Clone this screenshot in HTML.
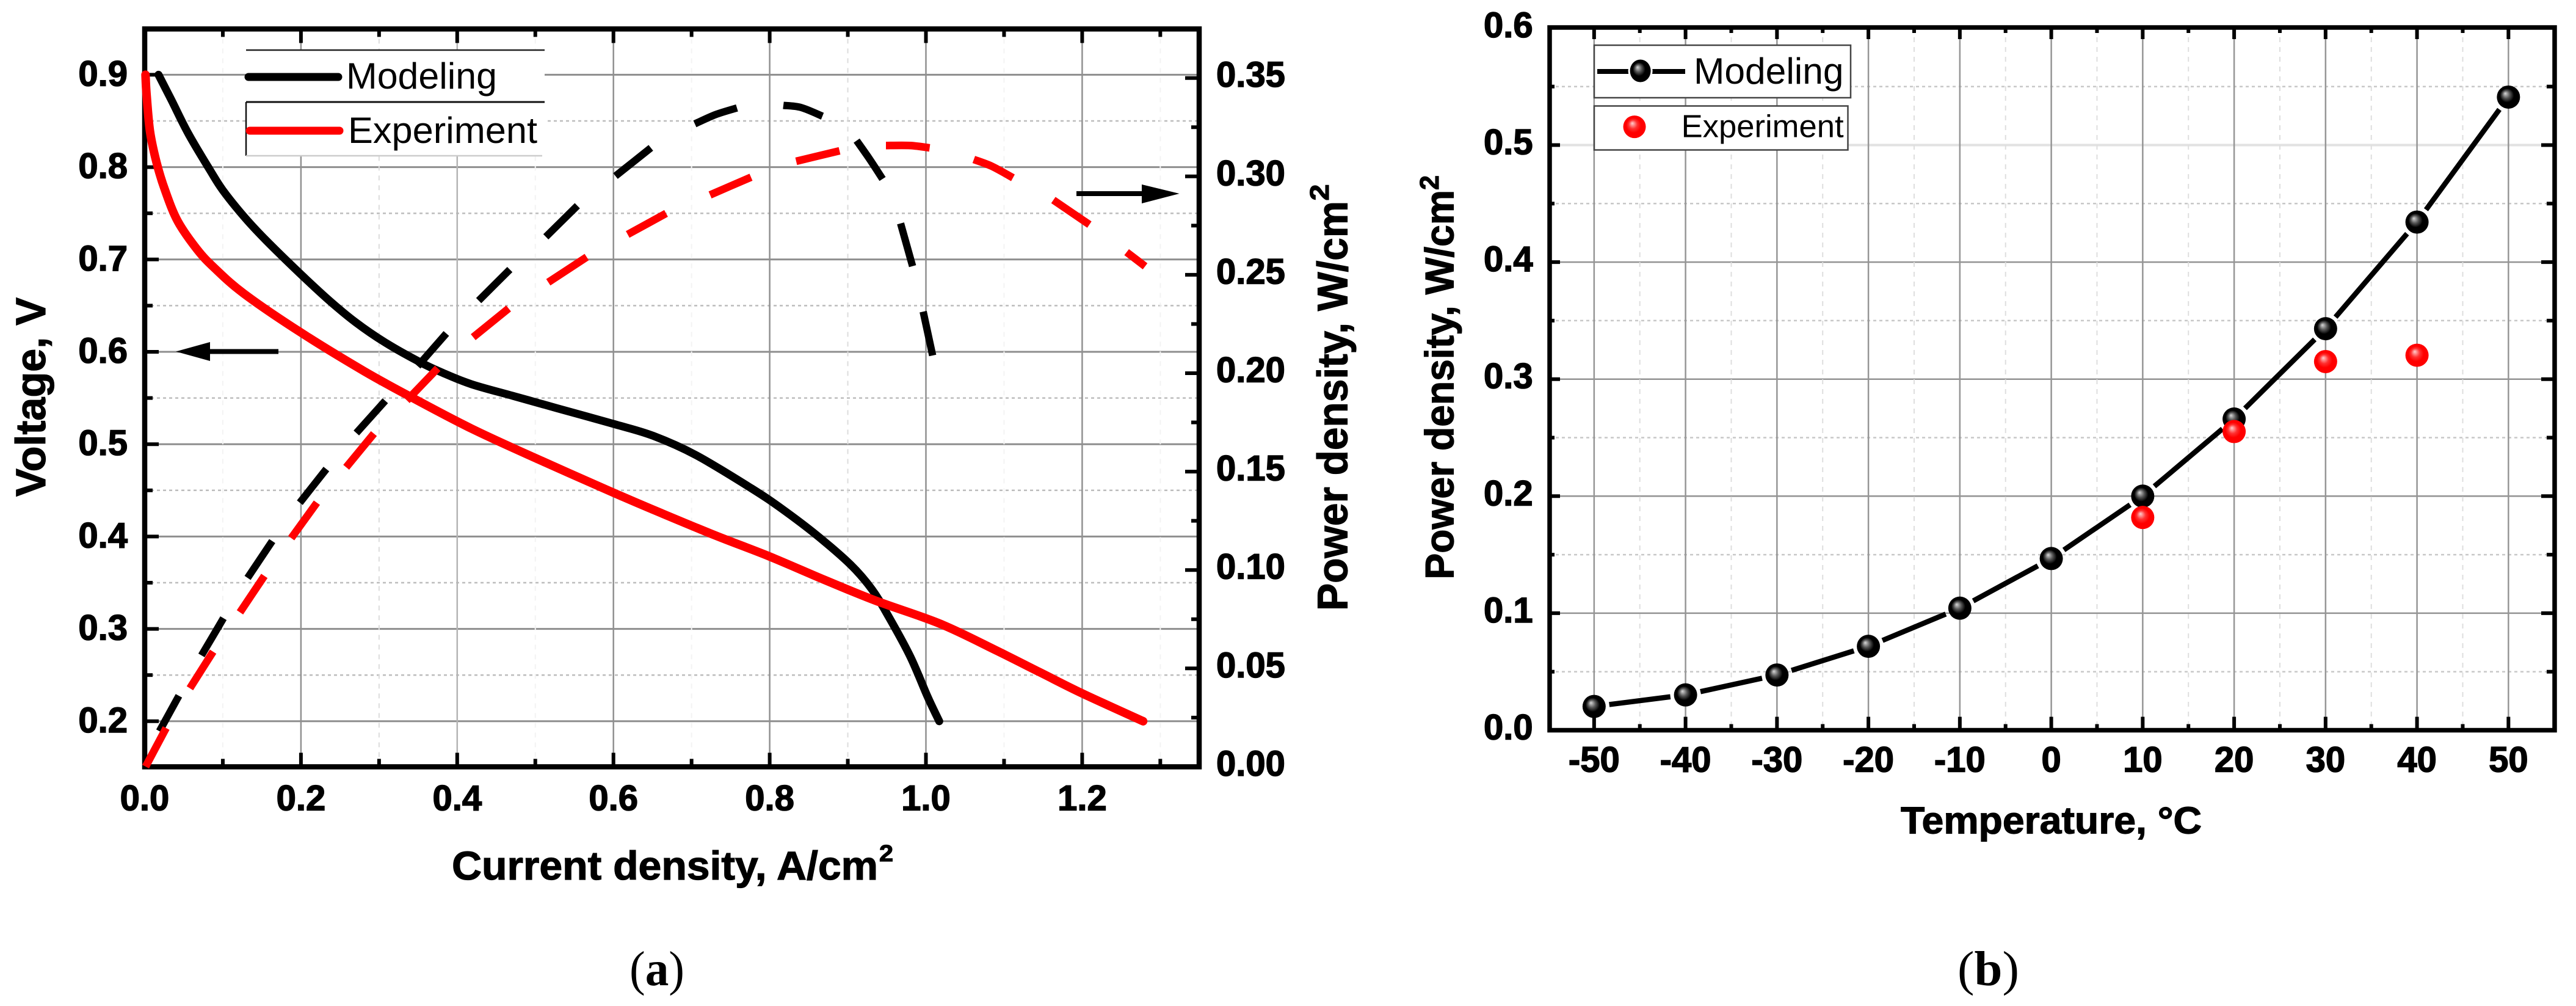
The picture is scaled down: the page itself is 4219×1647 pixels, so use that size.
<!DOCTYPE html>
<html lang="en">
<head>
<meta charset="utf-8">
<title>Voltage and power density charts</title>
<style>
html,body{margin:0;padding:0;background:#fff;}
svg{display:block;}
text{font-family:"Liberation Sans",sans-serif;fill:#000;}
.b{font-weight:bold;stroke:#000;stroke-width:1.2;}
.serif{font-family:"Liberation Serif",serif;}
</style>
</head>
<body>
<svg id="fig" xmlns="http://www.w3.org/2000/svg" width="4219" height="1647" viewBox="0 0 4219 1647">
<defs>
<radialGradient id="gBlack" cx="0.5" cy="0.5" r="0.55" fx="0.36" fy="0.34">
<stop offset="0" stop-color="#d8d8d8"/><stop offset="0.3" stop-color="#555"/><stop offset="0.55" stop-color="#000"/><stop offset="1" stop-color="#000"/>
</radialGradient>
<radialGradient id="gRed" cx="0.5" cy="0.5" r="0.55" fx="0.4" fy="0.34">
<stop offset="0" stop-color="#ffd0d0"/><stop offset="0.35" stop-color="#ff3030"/><stop offset="0.6" stop-color="#f00"/><stop offset="1" stop-color="#f00"/>
</radialGradient>
</defs>
<rect x="0" y="0" width="4219" height="1647" fill="#fff"/>

<g id="panelA">
<g id="aGrid"></g>
<g id="aLegendBox">
<rect x="403" y="82" width="489" height="173" fill="#fff"/>
<line x1="403" y1="82" x2="892" y2="82" stroke="#222" stroke-width="2.5"/>
<line x1="403" y1="167" x2="892" y2="167" stroke="#111" stroke-width="3"/>
<line x1="403" y1="167" x2="403" y2="255" stroke="#111" stroke-width="2.5"/>
<line x1="403" y1="255" x2="888" y2="255" stroke="#ccc" stroke-width="2.5"/>
</g>
<rect x="237" y="47.4" width="1727" height="1208" fill="none" stroke="#000" stroke-width="8.5"/>
<g id="aTicks"></g>
<g id="aSeries"></g>
<g>
<line x1="407" y1="126" x2="554" y2="126" stroke="#000" stroke-width="13" stroke-linecap="round"/>
<text x="567" y="145" font-size="60" textLength="247" lengthAdjust="spacingAndGlyphs">Modeling</text>
<line x1="409" y1="214" x2="556" y2="214" stroke="#f00" stroke-width="13" stroke-linecap="round"/>
<text x="570" y="234" font-size="60" textLength="310" lengthAdjust="spacingAndGlyphs">Experiment</text>
</g>
<g>
<line x1="456" y1="575.5" x2="340" y2="575.5" stroke="#000" stroke-width="8"/>
<polygon points="288,575.5 344,560 344,591" fill="#000"/>
</g>
<g>
<line x1="1763" y1="317" x2="1875" y2="317" stroke="#000" stroke-width="8"/>
<polygon points="1931.6,317 1870,302 1870,333" fill="#000"/>
</g>
<text class="b" x="740" y="1440" font-size="66" textLength="698" lengthAdjust="spacingAndGlyphs">Current density, A/cm</text>
<text class="b" x="1440" y="1410" font-size="38" textLength="23" lengthAdjust="spacingAndGlyphs">2</text>
<text class="b" transform="translate(74,813) rotate(-90)" x="0" y="0" font-size="69" textLength="326" lengthAdjust="spacingAndGlyphs">Voltage, V</text>
<text class="b" transform="translate(2206.6,1000) rotate(-90)" x="0" y="0" font-size="70" textLength="671" lengthAdjust="spacingAndGlyphs">Power density, W/cm</text>
<text class="b" transform="translate(2176,328.5) rotate(-90)" x="0" y="0" font-size="44" textLength="27" lengthAdjust="spacingAndGlyphs">2</text>
<text class="serif" x="1031" y="1613" font-size="80" textLength="90" lengthAdjust="spacingAndGlyphs">(<tspan font-weight="bold">a</tspan>)</text>
</g>

<g id="panelB">
<g id="bGrid"></g>
<rect x="2538" y="45" width="1646" height="1150.5" fill="none" stroke="#000" stroke-width="7.5"/>
<g id="bTicks"></g>
<g id="bSeries"></g>
<g>
<rect x="2611" y="74" width="420" height="86" fill="#fff" stroke="#444" stroke-width="2.5"/>
<line x1="2616" y1="117" x2="2760" y2="117" stroke="#000" stroke-width="8"/>
<ellipse cx="2686.6" cy="116" rx="20" ry="21" fill="#fff"/>
<ellipse cx="2686.6" cy="116" rx="17" ry="18.5" fill="url(#gBlack)"/>
<text x="2774" y="137" font-size="60" textLength="245.5" lengthAdjust="spacingAndGlyphs">Modeling</text>
<rect x="2611" y="173.5" width="415.5" height="72" fill="#fff" stroke="#444" stroke-width="2.5"/>
<ellipse cx="2677" cy="207.6" rx="18.5" ry="18.5" fill="url(#gRed)"/>
<text x="2753.6" y="224.5" font-size="52" textLength="266" lengthAdjust="spacingAndGlyphs">Experiment</text>
</g>
<text class="b" x="3113" y="1364.5" font-size="62" textLength="493" lengthAdjust="spacingAndGlyphs">Temperature, °C</text>
<text class="b" transform="translate(2380.5,948.6) rotate(-90)" x="0" y="0" font-size="66" textLength="637.6" lengthAdjust="spacingAndGlyphs">Power density, W/cm</text>
<text class="b" transform="translate(2356,311) rotate(-90)" x="0" y="0" font-size="44" textLength="24" lengthAdjust="spacingAndGlyphs">2</text>
<text class="serif" x="3206" y="1613" font-size="80" textLength="101" lengthAdjust="spacingAndGlyphs">(<tspan font-weight="bold">b</tspan>)</text>
</g>
</svg>

<script>
// Panel (a) tick values
const aXMajor = [0, 0.2, 0.4, 0.6, 0.8, 1.0, 1.2];
const aXMinor = [0.1, 0.3, 0.5, 0.7, 0.9, 1.1, 1.3];
const aVMajor = [0.2, 0.3, 0.4, 0.5, 0.6, 0.7, 0.8, 0.9];
const aVMinor = [0.25, 0.35, 0.45, 0.55, 0.65, 0.75, 0.85];
const aPMajor = [0, 0.05, 0.1, 0.15, 0.2, 0.25, 0.3, 0.35];
const aPMinor = [0.025, 0.075, 0.125, 0.175, 0.225, 0.275, 0.325];

// Panel (a) voltage curves
const vModelX = [0.0177,0.034,0.056,0.0834,0.1,0.127,0.155,0.1986,0.237,0.27,0.308,0.352,0.3795,0.418,0.4727,0.5275,0.5998,0.651,0.706,0.777,0.8156,0.8595,0.9033,0.9307,0.9527,0.98,1.002,1.017];
const vModelY = [0.9,0.873,0.836,0.797,0.775,0.7465,0.721,0.685,0.655,0.632,0.61,0.589,0.578,0.565,0.552,0.539,0.522,0.509,0.488,0.452,0.43,0.4019,0.3697,0.343,0.3126,0.27,0.2268,0.2];
const vExpX = [0.001,0.0023,0.0067,0.015,0.026,0.0423,0.067,0.089,0.127,0.1986,0.281,0.341,0.418,0.5,0.6,0.651,0.728,0.799,0.8704,0.936,1.0185,1.0897,1.1445,1.1994,1.278];
const vExpY = [0.9,0.88,0.839,0.8055,0.775,0.7414,0.711,0.691,0.663,0.6216,0.579,0.551,0.517,0.485,0.4475,0.429,0.402,0.3787,0.353,0.3304,0.3054,0.2768,0.2536,0.2304,0.2];

// Panel (a) power curves, drawn dashed; null marks a gap between dashes
const pModelX = [0.0188,0.0438,null,0.0727,0.1008,null,0.1317,0.1633,null,0.1985,0.2325,null,0.2709,0.3079,null,0.3494,0.3861,null,0.4275,0.4674,null,0.5135,0.5538,null,0.6026,0.6479,null,0.7042,0.7307,0.7581,null,0.8175,0.8402,0.8675,null,0.9113,0.9277,0.9445,null,0.9676,0.9829,null,0.9965,1.0086];
const pModelY = [0.0181,0.0361,null,0.0566,0.0755,null,0.096,0.1147,null,0.1342,0.1513,null,0.1696,0.186,null,0.2036,0.2202,null,0.2369,0.2527,null,0.2693,0.2851,null,0.3002,0.3145,null,0.3267,0.3314,0.3348,null,0.3361,0.335,0.3306,null,0.3182,0.3089,0.2987,null,0.2761,0.2544,null,0.2313,0.209];
const pExpX = [0.0012,0.0274,null,0.0578,0.0875,null,0.1219,0.1532,null,0.1876,0.2204,null,0.2579,0.2934,null,0.3356,0.3751,null,0.4205,0.4658,null,0.5166,0.5658,null,0.6182,0.6674,null,0.7237,0.7761,null,0.8339,0.8894,null,0.9488,0.98,1.0048,null,1.0613,1.084,1.1114,null,1.1631,1.2092,null,1.2569,1.2806];
const pExpY = [0.0001,0.0197,null,0.0399,0.0585,null,0.0785,0.097,null,0.1162,0.1342,null,0.1522,0.1693,null,0.1862,0.2025,null,0.2183,0.2329,null,0.2462,0.259,null,0.2705,0.2812,null,0.2906,0.2996,null,0.3077,0.313,null,0.3157,0.3157,0.3145,null,0.3086,0.3052,0.2993,null,0.288,0.2755,null,0.2615,0.2543];

// Panel (b) tick values and series
const bTMajor = [-50,-40,-30,-20,-10,0,10,20,30,40,50];
const bTMinor = [-45,-35,-25,-15,-5,5,15,25,35,45];
const bYMajor = [0,0.1,0.2,0.3,0.4,0.5,0.6];
const bYMinor = [0.05,0.15,0.25,0.35,0.45,0.55];
const modelTemps = [-50,-40,-30,-20,-10,0,10,20,30,40,50];
const modelPower = [0.0203,0.0302,0.0472,0.0717,0.1043,0.1467,0.2,0.2659,0.3431,0.4342,0.541];
const expTemps = [10,20,30,40];
const expPower = [0.1818,0.2552,0.315,0.3204];

// Axis functions
function ax(v){ return 237 + 1279.5 * v; }
function ay(v){ return 122.4 + (0.9 - v) * 1512; }
function ap(v){ return 1255.4 - 3222 * v; }
function bx(t){ return 3359.6 + 14.975 * t; }
function by(v){ return 1195.5 - 1916 * v; }

const NS = 'http://www.w3.org/2000/svg';
function mk(tag, parent, props){
  const el = document.createElementNS(NS, tag);
  for (const k in props) el.setAttribute(k, props[k]);
  parent.appendChild(el);
  return el;
}
function hLine(parent, y, x1, x2, color, w, dash){
  const p = {x1:x1, x2:x2, y1:y, y2:y, stroke:color, 'stroke-width':w};
  if (dash) p['stroke-dasharray'] = dash;
  return mk('line', parent, p);
}
function vLine(parent, x, y1, y2, color, w, dash){
  const p = {x1:x, x2:x, y1:y1, y2:y2, stroke:color, 'stroke-width':w};
  if (dash) p['stroke-dasharray'] = dash;
  return mk('line', parent, p);
}
function label(parent, str, x, y, anchor){
  const el = mk('text', parent, {x:x, y:y, 'font-size':58, 'font-weight':'bold', 'text-anchor':anchor, stroke:'#000', 'stroke-width':1.5});
  el.textContent = str;
  return el;
}
// Smooth path (Catmull-Rom) through each unbroken run of points
function pathFrom(xs, ys, fx, fy){
  let d = '', run = [];
  function flush(){
    if (run.length > 1){
      d += 'M' + run[0][0].toFixed(1) + ' ' + run[0][1].toFixed(1);
      for (let i = 0; i + 1 < run.length; i++){
        const p0 = run[Math.max(i - 1, 0)], p1 = run[i], p2 = run[i + 1], p3 = run[Math.min(i + 2, run.length - 1)];
        const c1x = p1[0] + (p2[0] - p0[0]) / 6, c1y = p1[1] + (p2[1] - p0[1]) / 6;
        const c2x = p2[0] - (p3[0] - p1[0]) / 6, c2y = p2[1] - (p3[1] - p1[1]) / 6;
        d += 'C' + c1x.toFixed(1) + ' ' + c1y.toFixed(1) + ' ' + c2x.toFixed(1) + ' ' + c2y.toFixed(1) + ' ' + p2[0].toFixed(1) + ' ' + p2[1].toFixed(1);
      }
    }
    run = [];
  }
  for (let i = 0; i < xs.length; i++){
    if (xs[i] === null || ys[i] === null){ flush(); continue; }
    run.push([fx(xs[i]), fy(ys[i])]);
  }
  flush();
  return d;
}

// ---------- Panel (a) ----------
const aGrid = document.getElementById('aGrid');
const aTicks = document.getElementById('aTicks');
const aSeries = document.getElementById('aSeries');
const aL = 237, aR = 1964, aT = 47.4, aB = 1255.4;

aVMajor.forEach(function(v){
  const el = hLine(aGrid, ay(v), aL, aR, '#8e8e8e', 3);
  
  
});
aVMinor.forEach(function(v){
  const el = hLine(aGrid, ay(v), aL, aR, '#bdbdbd', 2.5, '5 5');
  
  
});
aXMajor.slice(1).forEach(function(v){
  const el = vLine(aGrid, ax(v), aT, aB, v === 0.4 ? '#b4b4b4' : '#909090', 2.5);
  
  
});
aXMinor.forEach(function(v){
  const strong = (v === 0.3 || v === 0.9);
  const el = vLine(aGrid, ax(v), aT, aB, strong ? '#dcdcdc' : '#f3f3f3', 2, '8 8');
  
  
});

aXMajor.forEach(function(v){
  const x = ax(v);
  const t1 = vLine(aTicks, x, aB, aB - 23, '#000', 6);
  
  
  const t2 = vLine(aTicks, x, aT, aT + 23, '#000', 6);
  
  
  const lab = label(aTicks, v.toFixed(1), x, 1326.7, 'middle');
  
  
});
aXMinor.forEach(function(v){
  const x = ax(v);
  const t1 = vLine(aTicks, x, aB, aB - 13, '#000', 6);
  
  
  const t2 = vLine(aTicks, x, aT, aT + 13, '#000', 6);
  
  
});
aVMajor.forEach(function(v){
  const y = ay(v);
  const t = hLine(aTicks, y, aL, aL + 23, '#000', 6);
  
  
  const lab = label(aTicks, v.toFixed(1), 209, y + 18, 'end');
  
  
});
aVMinor.forEach(function(v){
  const t = hLine(aTicks, ay(v), aL, aL + 13, '#000', 6);
  
  
});
aPMajor.forEach(function(v){
  const y = ap(v);
  const t = hLine(aTicks, y, aR, aR - 23, '#000', 6);
  
  
  const lab = label(aTicks, v.toFixed(2), 1992, y + 14.5, 'start');
  
  
});
aPMinor.forEach(function(v){
  const t = hLine(aTicks, ap(v), aR, aR - 13, '#000', 6);
  
  
});

const pModelLine = mk('path', aSeries, {d:pathFrom(pModelX, pModelY, ax, ap), fill:'none', stroke:'#000', 'stroke-width':12, 'stroke-linejoin':'round'});


const vModelLine = mk('path', aSeries, {d:pathFrom(vModelX, vModelY, ax, ay), fill:'none', stroke:'#000', 'stroke-width':13, 'stroke-linejoin':'round', 'stroke-linecap':'round'});


const pExpLine = mk('path', aSeries, {d:pathFrom(pExpX, pExpY, ax, ap), fill:'none', stroke:'#f00', 'stroke-width':12.5, 'stroke-linejoin':'round'});


const vExpLine = mk('path', aSeries, {d:pathFrom(vExpX, vExpY, ax, ay), fill:'none', stroke:'#f00', 'stroke-width':14, 'stroke-linejoin':'round', 'stroke-linecap':'round'});



// ---------- Panel (b) ----------
const bGrid = document.getElementById('bGrid');
const bTicks = document.getElementById('bTicks');
const bSeries = document.getElementById('bSeries');
const bL = 2538, bR = 4184, bT = 45, bB = 1195.5;

bYMajor.slice(1, 6).forEach(function(v){
  const el = hLine(bGrid, by(v), bL, bR, v === 0.5 ? '#e2e2e2' : '#929292', v === 0.5 ? 4 : 2.5);
  
  
});
bYMinor.forEach(function(v){
  const el = hLine(bGrid, by(v), bL, bR, '#c8c8c8', 2.5, '5 5');
  
  
});
bTMajor.forEach(function(t){
  const el = vLine(bGrid, bx(t), bT, bB, '#959595', 2.5);
  
  
});
bTMinor.forEach(function(t){
  const el = vLine(bGrid, bx(t), bT, bB, '#dedede', 2, '8 8');
  
  
});

bTMajor.forEach(function(t){
  const x = bx(t);
  const t1 = vLine(bTicks, x, bB, bB - 22, '#000', 6);
  
  
  const t2 = vLine(bTicks, x, bT, bT + 19, '#000', 6);
  
  
  const lab = label(bTicks, String(t), x, 1263.5, 'middle');
  
  
});
bTMinor.forEach(function(t){
  const x = bx(t);
  const t1 = vLine(bTicks, x, bB, bB - 10, '#000', 6);
  
  
  const t2 = vLine(bTicks, x, bT, bT + 9, '#000', 6);
  
  
});
bYMajor.forEach(function(v){
  const y = by(v);
  if (v > 0 && v < 0.6){
    const t1 = hLine(bTicks, y, bL, bL + 17, '#000', 6);
    
    
    const t2 = hLine(bTicks, y, bR, bR - 22, '#000', 6);
    
    
  }
  const lab = label(bTicks, v.toFixed(1), 2510.6, y + 15, 'end');
  
  
});
bYMinor.forEach(function(v){
  const y = by(v);
  const t1 = hLine(bTicks, y, bL, bL + 8, '#000', 6);
  
  
  const t2 = hLine(bTicks, y, bR, bR - 13, '#000', 6);
  
  
});

// Model line segments stop short of each marker, leaving the white halo of the plot symbol
const halo = 25;
for (let i = 0; i + 1 < modelTemps.length; i++){
  const x1 = bx(modelTemps[i]), y1 = by(modelPower[i]);
  const x2 = bx(modelTemps[i + 1]), y2 = by(modelPower[i + 1]);
  const len = Math.hypot(x2 - x1, y2 - y1);
  const ux = (x2 - x1) / len, uy = (y2 - y1) / len;
  const seg = mk('line', bSeries, {x1:x1 + ux * halo, y1:y1 + uy * halo, x2:x2 - ux * halo, y2:y2 - uy * halo, stroke:'#000', 'stroke-width':8.5});
  
  
}
modelTemps.forEach(function(t, i){
  const c = mk('circle', bSeries, {cx:bx(t), cy:by(modelPower[i]), r:19, fill:'url(#gBlack)'});
  
  
});
expTemps.forEach(function(t, i){
  const c = mk('circle', bSeries, {cx:bx(t), cy:by(expPower[i]), r:19, fill:'url(#gRed)'});
  
  
});
</script>
</body>
</html>
